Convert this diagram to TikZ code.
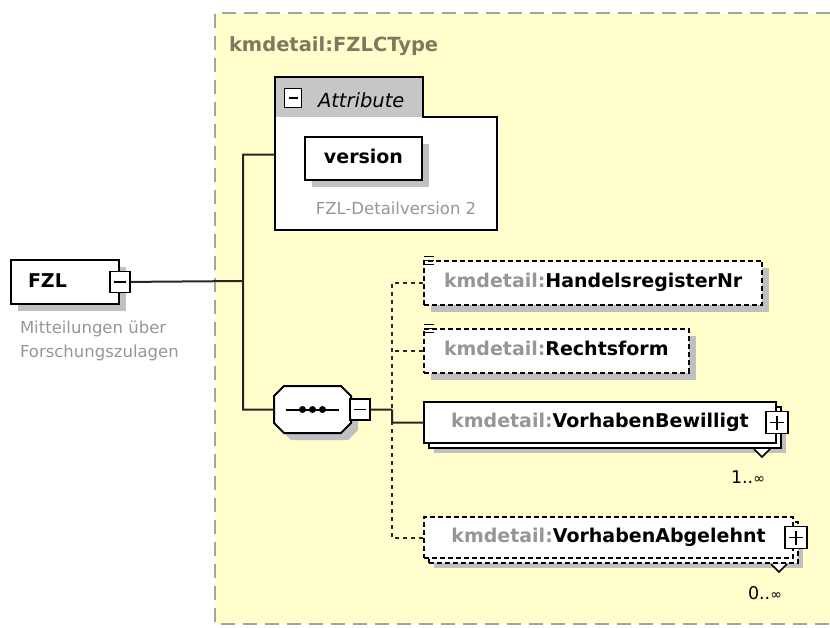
\documentclass[tikz,border=0pt]{standalone}
\usepackage{fontspec}
\setmainfont{DejaVu Sans}
\usepackage{tikz}
\usetikzlibrary{shadows}

\definecolor{typebg}{RGB}{255,254,204}
\definecolor{typeline}{RGB}{165,165,155}
\definecolor{typetext}{RGB}{122,122,95}
\definecolor{prefixgray}{RGB}{150,150,150}
\definecolor{notegray}{RGB}{150,150,150}
\definecolor{shade}{RGB}{192,192,192}
\definecolor{tabgray}{RGB}{198,198,198}

\begin{document}
\begin{tikzpicture}[x=1pt,y=-1pt,line width=2pt,
    elem/.style={draw,fill=white,anchor=west,minimum height=44,inner xsep=20,
      text height=14,text depth=4,font=\fontsize{19}{22}\selectfont\bfseries,
      drop shadow={shadow xshift=7pt,shadow yshift=-7pt,fill=shade,opacity=1}},
    optelem/.style={elem,dash pattern=on 5pt off 3pt},
    multi/.style={draw,fill=white,anchor=west,minimum height=41,inner xsep=20,
      text height=14,text depth=4,font=\fontsize{19}{22}\selectfont\bfseries,
      drop shadow={shadow xshift=10pt,shadow yshift=-10pt,fill=shade,opacity=1},
      copy shadow={shadow xshift=5pt,shadow yshift=-5pt,fill=white,draw=black}},
    optmulti/.style={multi,dash pattern=on 5pt off 3pt},
    minus/.style={draw,fill=white,inner sep=0,minimum width=20,minimum height=21,line width=1.6pt,
      path picture={\draw[line width=1.6pt] ([xshift=4pt]path picture bounding box.west) -- ([xshift=-4pt]path picture bounding box.east);}},
    plus/.style={draw,fill=white,inner sep=0,minimum width=22,minimum height=22,line width=1.6pt,
      path picture={\draw[line width=1.6pt] ([xshift=4pt]path picture bounding box.west) -- ([xshift=-4pt]path picture bounding box.east)
        ([yshift=-4pt]path picture bounding box.north) -- ([yshift=4pt]path picture bounding box.south);}},
    note/.style={text=notegray,font=\fontsize{16.5}{23.5}\selectfont,inner sep=0,align=left},
    mult/.style={font=\fontsize{17.5}{17.5}\selectfont,inner sep=0},
    conn/.style={draw=black!85},
    optconn/.style={conn,dash pattern=on 4pt off 4pt}]

  \useasboundingbox (0,0) rectangle (830,627);

  % complex type area
  \fill[typebg] (215,13) rectangle (830,624);
  \draw[typeline,dash pattern=on 14pt off 8pt] (830,13) -- (215,13) -- (215,624) -- (830,624);
  \node[anchor=base west,inner sep=0,text=typetext,font=\fontsize{19.5}{22}\selectfont\bfseries] (typename) at (228,51) {kmdetail:FZLCType};

  % root element
  \node[elem,anchor=north west,minimum width=108,text width=74,align=left,inner xsep=17] (fzl) at (10,259) {FZL};
  \node[minus] (fzlsign) at (fzl.east) {};
  \node[note,anchor=base west] (fzldesc) at (19,357) {Mitteilungen über\\Forschungszulagen};

  % attributes
  \node[minimum width=222,minimum height=153,anchor=north west,inner sep=0] (attr) at (275,77) {};
  \fill[white] ([shift={(0,40)}]attr.north west) rectangle (attr.south east);
  \fill[tabgray] (attr.north west) rectangle ++(148,40);
  \draw (attr.north west) -- ++(148,0) -- ++(0,40) -- ++(74,0) -- ++(0,113) -- ++(-222,0) -- cycle;
  \node[minus,minimum width=17,minimum height=19] (attrsign) at (293,98) {};
  \node[anchor=base west,inner sep=0,font=\fontsize{19.5}{22}\selectfont\itshape] (attrtitle) at (317,107) {Attribute};
  \node[elem,anchor=center,minimum width=117,minimum height=43,inner xsep=0] (version) at (363.5,158.5) {version};
  \node[note,anchor=center] (versiondesc) at (396,208) {FZL-Detailversion 2};

  % sequence
  \node[minimum width=75,minimum height=45,inner sep=0] (seq) at (312.5,409.5) {};
  \path[draw,fill=white,drop shadow={shadow xshift=7pt,shadow yshift=-7pt,fill=shade,opacity=1}]
    ([shift={(10,0)}]seq.north west) -- ([shift={(-10,0)}]seq.north east) -- ([shift={(0,10)}]seq.north east)
    -- ([shift={(0,-10)}]seq.south east) -- ([shift={(-10,0)}]seq.south east) -- ([shift={(10,0)}]seq.south west)
    -- ([shift={(0,-10)}]seq.south west) -- ([shift={(0,10)}]seq.north west) -- cycle;
  \draw ([shift={(-27,0)}]seq.center) -- ([shift={(26,0)}]seq.center);
  \foreach \dx in {-10,0,10}
    \fill ([shift={(\dx,0)}]seq.center) circle (3.5);
  \node[minus] (seqsign) at (360,409.5) {};

  % child elements
  \node[optelem] (hr) at (423,282.5) {\textcolor{prefixgray}{kmdetail:}HandelsregisterNr};
  \node[optelem] (rf) at (423,350.5) {\textcolor{prefixgray}{kmdetail:}Rechtsform};
  \node[multi,minimum width=352] (vb) at (423,422.5) {\textcolor{prefixgray}{kmdetail:}VorhabenBewilligt};
  \node[optmulti,minimum width=369] (va) at (423,537.5) {\textcolor{prefixgray}{kmdetail:}VorhabenAbgelehnt};

  \foreach \n in {hr,rf}
    \foreach \dy in {-3,1,5}
      \draw[line width=1.5pt] ([shift={(1,\dy)}]\n.north west) -- ++(10,0);

  \node[plus] (vbsign) at (vb.east) {};
  \node[plus] (vasign) at ([shift={(2,0)}]va.east) {};
  \foreach \n in {vb,va}
    \draw[fill=white,line width=1.6pt] ([shift={(-23,5)}]\n.south east) -- ++(8,8) -- ++(8,-8);

  \node[mult] (vbmult) at ([shift={(-29,33)}]vb.south east) {1..{\fontsize{14}{14}\selectfont ∞}};
  \node[mult] (vamult) at ([shift={(-29,34)}]va.south east) {0..{\fontsize{14}{14}\selectfont ∞}};

  % connectors
  \coordinate (trunk) at (243,281);
  \coordinate (hub) at (392,409.5);
  \path[optconn] (hr.west) -| (hub)
    (rf.west) -- (rf.west -| hub)
    (va.west) -| (hub);
  \path[conn] (fzlsign) -- (trunk)
    (attr.west) -| (trunk) |- (seq.west)
    (seqsign) -- (hub)
    (vb.west) -| (hub);

\end{tikzpicture}
\end{document}
